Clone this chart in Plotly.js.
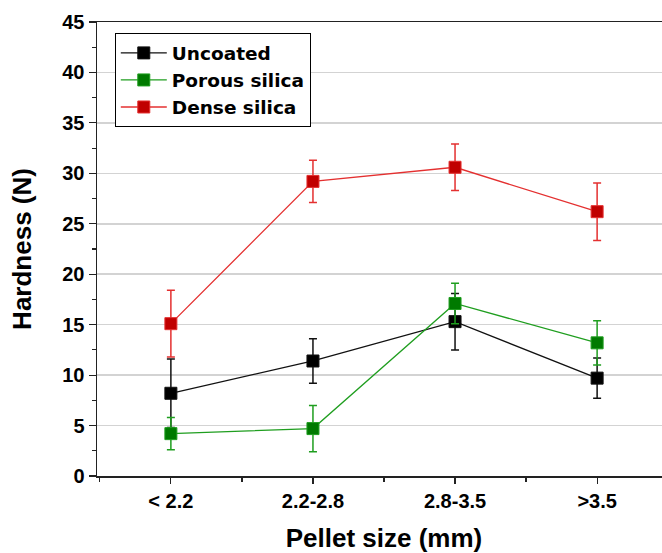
<!DOCTYPE html>
<html>
<head>
<meta charset="utf-8">
<script src="https://cdn.plot.ly/plotly-3.0.1.min.js"></script>
<style>
html, body { margin: 0; padding: 0; overflow: hidden; background: #fff; }
#chart { width: 690px; height: 553px; }
</style>
</head>
<body>
<div id="chart"></div>
<script>
const categories = ["< 2.2", "2.2-2.8", "2.8-3.5", ">3.5"];
const uncoated = [8.2, 11.4, 15.3, 9.7];
const uncoatedErr = [3.4, 2.2, 2.8, 2.0];
const porous = [4.2, 4.7, 17.1, 13.2];
const porousErr = [1.6, 2.3, 2.0, 2.2];
const dense = [15.1, 29.2, 30.6, 26.2];
const denseErr = [3.3, 2.1, 2.3, 2.85];
const yTicks = [0, 5, 10, 15, 20, 25, 30, 35, 40, 45];

const xIdx = categories.map((c, i) => i);
const font = "Liberation Sans, Arial, sans-serif";
const legendFont = "DejaVu Sans, Liberation Sans, sans-serif";

function series(name, y, err, lineColor, markerColor) {
  return {
    type: "scatter",
    mode: "lines+markers",
    name: name,
    x: xIdx,
    y: y,
    line: { color: lineColor, width: 1.3 },
    marker: { symbol: "square", size: 12, color: markerColor, line: { color: lineColor, width: 1 } },
    error_y: { type: "data", array: err, visible: true, color: lineColor, thickness: 1.5, width: 4 }
  };
}

const data = [
  series("Uncoated", uncoated, uncoatedErr, "#111111", "#000000"),
  series("Porous silica", porous, porousErr, "#1f9e1f", "#007a00"),
  series("Dense silica", dense, denseErr, "#e43030", "#c00000")
];

const layout = {
  width: 690,
  height: 553,
  margin: { l: 97, r: 19, t: 22, b: 77 },
  paper_bgcolor: "#ffffff",
  plot_bgcolor: "#ffffff",
  showlegend: true,
  font: { family: font, color: "#000" },
  xaxis: {
    range: [-0.52, 3.52],
    tickvals: xIdx,
    ticktext: categories,
    showgrid: false,
    zeroline: false,
    showline: true,
    mirror: true,
    linecolor: "#222",
    linewidth: 1.5,
    ticks: "outside",
    ticklen: 6,
    tickwidth: 1.2,
    tickcolor: "#222",
    minor: { dtick: 0.5, tick0: 0, ticks: "outside", ticklen: 4, tickwidth: 1.2, tickcolor: "#222", showgrid: false },
    tickfont: { family: font, size: 20, weight: "bold", color: "#000" },
    title: { text: "<b>Pellet size (mm)</b>", font: { family: font, size: 26, color: "#000" }, standoff: 18 }
  },
  yaxis: {
    range: [0, 45],
    tickvals: yTicks,
    showgrid: true,
    gridcolor: "#d3d3d3",
    gridwidth: 1.5,
    zeroline: false,
    showline: true,
    mirror: true,
    linecolor: "#222",
    linewidth: 1.5,
    ticks: "outside",
    ticklen: 7,
    tickwidth: 1.2,
    tickcolor: "#222",
    minor: { dtick: 2.5, tick0: 0, ticks: "outside", ticklen: 4, tickwidth: 1.2, tickcolor: "#222", showgrid: false },
    tickfont: { family: font, size: 20, weight: "bold", color: "#000" },
    title: { text: "<b>Hardness (N)</b>", font: { family: font, size: 26, color: "#000" }, standoff: 23 }
  },
  legend: {
    x: 0.031,
    y: 0.975,
    xanchor: "left",
    yanchor: "top",
    bgcolor: "#ffffff",
    bordercolor: "#000",
    borderwidth: 1,
    font: { family: legendFont, size: 18.5, weight: "bold", color: "#000" },
    tracegroupgap: 0,
    itemwidth: 46
  }
};

Plotly.newPlot("chart", data, layout, { displayModeBar: false, responsive: false, staticPlot: true });
</script>
</body>
</html>
